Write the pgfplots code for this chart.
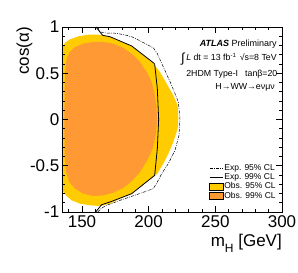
\documentclass[border=0pt]{standalone}
\usepackage{fontspec}
\setmainfont{Liberation Sans}
\usepackage{pgfplots}
\pgfplotsset{compat=1.18}
\definecolor{obsyellow}{RGB}{255,204,0}
\definecolor{obsorange}{RGB}{255,153,51}
\begin{document}
\begin{tikzpicture}
\useasboundingbox (-62pt,-61pt) rectangle (236pt,212pt);
\begin{axis}[
  at={(0,0)}, anchor=south west,
  width=220pt, height=185pt, scale only axis,
  xmin=135, xmax=300, ymin=-1, ymax=1,
  xtick={150,200,250,300},
  ytick={-1,-0.5,0,0.5,1},
  minor xtick={140,150,...,300},
  minor ytick={-1,-0.9,...,1},
  tick align=inside, tick pos=both,
  major tick length=6pt, minor tick length=3pt,
  every tick/.style={black, line width=0.5pt},
  axis line style={line width=0.6pt},
  /pgf/number format/assume math mode=true,
  ticklabel style={font=\fontsize{17}{17}\selectfont},
  yticklabel style={inner sep=2.5pt},
  axis on top,
  xlabel={m\raisebox{-0.35em}{\fontsize{12}{12}\selectfont H} [GeV]},
  ylabel={cos(α)},
  label style={font=\fontsize{17}{17}\selectfont},
  xlabel style={at={(axis description cs:1,-0.119)}, anchor=north east, inner sep=0pt},
  ylabel style={at={(axis description cs:-0.134,1)}, anchor=south east, inner sep=0pt},
  legend style={at={(axis description cs:0.975,0.265)}, anchor=north east, draw=none, fill=none,
    font=\fontsize{8.5}{9}\selectfont, row sep=0pt, inner sep=0pt,
    nodes={inner sep=0.6pt, text height=6.3pt, text depth=1.9pt}},
  legend cell align=left,
]
\addlegendimage{legend image code/.code={\draw[black, line width=0.5pt, dash pattern=on 3pt off 1.2pt on 0.8pt off 1.2pt] (0pt,0pt)--(13pt,0pt);}}
\addlegendentry{Exp. 95\% CL}
\addlegendimage{legend image code/.code={\draw[black, line width=0.8pt] (0pt,0pt)--(13pt,0pt);}}
\addlegendentry{Exp. 99\% CL}
\addlegendimage{legend image code/.code={\draw[fill=obsyellow, draw=black, line width=0.4pt] (-0.5pt,-3.4pt) rectangle (13.5pt,3.4pt);}}
\addlegendentry{Obs. 95\% CL}
\addlegendimage{legend image code/.code={\draw[fill=obsorange, draw=black, line width=0.4pt] (-0.5pt,-3.4pt) rectangle (13.5pt,3.4pt);}}
\addlegendentry{Obs. 99\% CL}

% Obs. 95% CL
\addplot[fill=obsyellow, draw=none, forget plot] coordinates {
(135,0.766) (137.25,0.830) (141,0.866) (147.25,0.899) (154.75,0.917) (162.25,0.917)
(168.5,0.905) (171,0.892) (187.25,0.795) (203.5,0.604) (208.5,0.514) (213.5,0.387)
(218.5,0.261) (221.75,0.153) (222.25,0.009) (221.75,-0.099) (218.5,-0.243)
(214.75,-0.369) (211,-0.477) (206.5,-0.586) (203.5,-0.622) (187.25,-0.802)
(178.5,-0.856) (171,-0.910) (163.5,-0.935) (156,-0.928) (148.5,-0.910)
(142.25,-0.874) (138,-0.820) (135,-0.766)
};
% Obs. 99% CL
\addplot[fill=obsorange, draw=none, forget plot] coordinates {
(138.5,0.658) (141,0.730) (144.75,0.784) (151,0.820) (158.5,0.838) (166,0.838)
(173.5,0.820) (181,0.773) (187.25,0.712) (193.5,0.622) (198.5,0.514) (202.25,0.405)
(204.75,0.261) (206,0.117) (206.25,-0.027) (205.25,-0.171) (203,-0.315) (199,-0.441)
(193.5,-0.568) (187.25,-0.668) (181,-0.741) (173.5,-0.791) (166,-0.820) (158.5,-0.827)
(151,-0.802) (144.75,-0.748) (140.5,-0.676) (138,-0.568) (137,-0.387) (136.75,-0.027)
(137,0.333) (137.5,0.550)
};
% Exp. 95% CL
\addplot[black, line width=0.5pt, dash pattern=on 3pt off 1.2pt on 0.8pt off 1.2pt, forget plot] coordinates {
(161.75,1.0) (163.5,0.946) (168.5,0.935) (176,0.932) (183.5,0.91) (188.5,0.888)
(203.5,0.775) (206.5,0.712) (211,0.568) (217.25,0.369) (222.25,0.189) (223.5,0.009)
(222.75,-0.171) (219.75,-0.333) (214.75,-0.477) (209.75,-0.586) (206.5,-0.676)
(203.5,-0.748) (191,-0.812) (178.5,-0.874) (168.5,-0.928) (164.75,-0.957) (161.75,-1.0)
};
% Exp. 99% CL
\addplot[black, line width=0.8pt, forget plot] coordinates {
(160.5,1.0) (165.5,0.91) (171,0.895) (187.25,0.795) (203.5,0.614) (204.5,0.600)
(206.5,0.333) (207.5,0.0) (206.5,-0.315) (204.5,-0.604) (187.25,-0.802) (171,-0.892)
(164.75,-0.921) (160.25,-1.0)
};

\node[anchor=base east, inner sep=0pt, font=\fontsize{9}{9}\selectfont] at (axis description cs:0.977,0.8946) {\textbf{\textit{ATLAS}} Preliminary};
\node[anchor=base east, inner sep=0pt, font=\fontsize{8.8}{9}\selectfont] at (axis description cs:0.977,0.8216) {\raisebox{-2pt}{\fontsize{13}{13}\selectfont ∫}\,\textit{L} dt = 13 fb\raisebox{3pt}{\fontsize{6}{6}\selectfont -1}\hspace{4pt}√s=8 TeV};
\node[anchor=base east, inner sep=0pt, font=\fontsize{8.8}{9}\selectfont] at (axis description cs:0.98,0.7324) {2HDM Type-I\hspace{7pt}tanβ=20};
\node[anchor=base east, inner sep=0pt, font=\fontsize{8.8}{9}\selectfont] at (axis description cs:0.968,0.6595) {H→WW→eνμν};
\end{axis}
\end{tikzpicture}
\end{document}
